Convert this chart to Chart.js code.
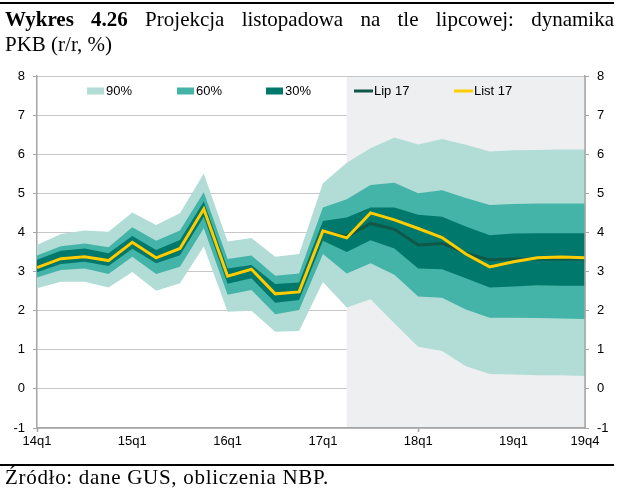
<!DOCTYPE html>
<html>
<head>
<meta charset="utf-8">
<script src="https://cdn.jsdelivr.net/npm/chart.js@4.4.1/dist/chart.umd.min.js"></script>
<style>
html,body{margin:0;padding:0;background:#fff;}
#wrap{position:relative;width:640px;height:496px;overflow:hidden;background:#fff;}
#topRule{position:absolute;left:0;top:2px;width:614px;height:2px;background:#000;}
#title{position:absolute;left:5px;top:7px;width:609px;font-family:"Liberation Serif","Times New Roman",serif;font-size:21px;line-height:25px;color:#000;}
#title .l1{text-align:justify;text-align-last:justify;}
#botRule{position:absolute;left:0;top:464px;width:614px;height:2px;background:#000;}
#footer{position:absolute;left:5px;top:465px;font-family:"Liberation Serif","Times New Roman",serif;font-size:21px;line-height:24px;letter-spacing:0.7px;color:#000;white-space:nowrap;}
#chartBox{position:absolute;left:0;top:0;width:640px;height:496px;}
</style>
</head>
<body>
<div id="wrap">
  <div id="chartBox"><canvas id="c" width="640" height="496"></canvas></div>
  <div id="topRule"></div>
  <div id="title"><div class="l1"><b>Wykres 4.26</b> Projekcja listopadowa na tle lipcowej: dynamika</div><div>PKB (r/r, %)</div></div>
  <div id="botRule"></div>
  <div id="footer">Źródło: dane GUS, obliczenia NBP.</div>
</div>
<script>
// ---- data ----
const quarters = ['14q1','14q2','14q3','14q4','15q1','15q2','15q3','15q4','16q1','16q2','16q3','16q4',
                  '17q1','17q2','17q3','17q4','18q1','18q2','18q3','18q4','19q1','19q2','19q3','19q4'];
const labeledQuarters = ['14q1','15q1','16q1','17q1','18q1','19q1','19q4'];
const projectionStart = '17q2';

const list17 = [3.10,3.33,3.38,3.28,3.75,3.35,3.59,4.60,2.88,3.06,2.43,2.48,
                4.04,3.86,4.50,4.32,4.10,3.87,3.45,3.12,3.25,3.35,3.37,3.35];
const lip17  = [3.10,3.33,3.38,3.28,3.75,3.35,3.59,4.60,2.88,3.06,2.43,2.48,
                4.04,3.90,4.23,4.08,3.68,3.72,3.47,3.30,3.32,3.32,3.32,3.32];

const band90Upper = [3.68,3.96,4.05,4.02,4.51,4.19,4.49,5.51,3.77,3.86,3.38,3.45,
                     5.26,5.78,6.15,6.43,6.25,6.39,6.24,6.07,6.10,6.11,6.12,6.12];
const band60Upper = [3.41,3.65,3.72,3.62,4.13,3.79,4.05,5.03,3.32,3.41,2.89,2.95,
                     4.64,4.85,5.21,5.27,5.00,5.08,4.88,4.70,4.73,4.74,4.74,4.74];
const band30Upper = [3.30,3.53,3.59,3.47,3.91,3.55,3.81,4.79,3.08,3.17,2.68,2.72,
                     4.29,4.38,4.64,4.64,4.45,4.40,4.15,3.93,3.97,3.98,3.98,3.98];
const band30Lower = [2.98,3.19,3.25,3.14,3.58,3.21,3.42,4.40,2.69,2.83,2.20,2.27,
                     3.79,3.50,3.80,3.59,3.08,3.06,2.83,2.59,2.62,2.65,2.64,2.64];
const band60Lower = [2.85,3.04,3.08,2.94,3.38,2.94,3.12,4.11,2.41,2.53,1.91,2.02,
                     3.45,2.95,3.21,2.92,2.36,2.33,2.03,1.82,1.82,1.81,1.80,1.79];
const band90Lower = [2.57,2.74,2.74,2.59,2.99,2.51,2.70,3.64,1.97,2.00,1.46,1.48,
                     2.73,2.08,2.29,1.68,1.08,0.97,0.58,0.38,0.37,0.35,0.35,0.33];

const yMin = -1, yMax = 8, yStep = 1;

// ---- styles ----
const C90 = '#b2ddd7', C60 = '#44b3a8', C30 = '#00796c';
const CLIP = '#0f5747', CLIST = '#ffcc00';
const SHADE = '#eeeff1';
const AXIS = '#a6a6a6', GRID = '#8f8f8f';
const FONT = {family:'"Liberation Sans", Arial, sans-serif', size:13};

Chart.defaults.font.family = FONT.family;
Chart.defaults.font.size = FONT.size;
Chart.defaults.color = '#000';

function band(label, data, color, order, fill){
  return {label, data, borderWidth:0, borderColor:'rgba(0,0,0,0)', backgroundColor:color,
          pointRadius:0, pointHoverRadius:0, fill, order, tension:0};
}

const datasets = [
  {label:'List 17', data:list17, borderColor:CLIST, backgroundColor:CLIST, borderWidth:3,
   pointRadius:0, fill:false, order:0, tension:0, borderJoinStyle:'miter'},
  {label:'Lip 17', data:lip17, borderColor:CLIP, backgroundColor:CLIP, borderWidth:3,
   pointRadius:0, fill:false, order:1, tension:0},
  band('30%', band30Upper, C30, 2, '+1'),
  band('30% lower', band30Lower, C30, 3, false),
  band('60%', band60Upper, C60, 4, '+1'),
  band('60% lower', band60Lower, C60, 5, false),
  band('90%', band90Upper, C90, 6, '+1'),
  band('90% lower', band90Lower, C90, 7, false)
];

const projectionShade = {
  id:'projectionShade',
  beforeDatasetsDraw(chart){
    const {ctx, chartArea:a, scales:{x}} = chart;
    const x0 = x.getPixelForValue(quarters.indexOf(projectionStart));
    ctx.save();
    ctx.fillStyle = SHADE;
    ctx.fillRect(x0, a.top + 1, a.right - x0, a.bottom - a.top - 2);
    ctx.restore();
  },
  afterDatasetsDraw(chart){
    const {ctx, chartArea:a} = chart;
    ctx.save();
    ctx.strokeStyle = AXIS; ctx.lineWidth = 1.5;
    ctx.beginPath(); ctx.moveTo(a.right, a.top); ctx.lineTo(a.right, a.bottom); ctx.stroke();
    ctx.restore();
  }
};

// legend drawn inside the plot area
const legendLayout = [
  {label:'90%', type:'box', x:87},
  {label:'60%', type:'box', x:177},
  {label:'30%', type:'box', x:266},
  {label:'Lip 17', type:'line', x:354},
  {label:'List 17', type:'line', x:454}
];
const innerLegend = {
  id:'innerLegend',
  afterDraw(chart){
    const {ctx} = chart;
    const y = 91;
    ctx.save();
    ctx.font = FONT.size + 'px ' + FONT.family;
    ctx.textBaseline = 'middle';
    ctx.fillStyle = '#000';
    legendLayout.forEach(item => {
      const ds = chart.data.datasets.find(d => d.label === item.label);
      if (item.type === 'box') {
        ctx.fillStyle = ds.backgroundColor;
        ctx.fillRect(item.x, y - 3.5, 17, 7);
        ctx.fillStyle = '#000';
        ctx.fillText(item.label, item.x + 19, y + 0.5);
      } else {
        ctx.strokeStyle = ds.borderColor; ctx.lineWidth = 3;
        ctx.beginPath(); ctx.moveTo(item.x, y); ctx.lineTo(item.x + 19, y); ctx.stroke();
        ctx.fillStyle = '#000';
        ctx.fillText(item.label, item.x + 20, y + 0.5);
      }
    });
    ctx.restore();
  }
};

const isLabeled = i => labeledQuarters.includes(quarters[i]);

new Chart(document.getElementById('c'), {
  type:'line',
  data:{labels:quarters, datasets},
  plugins:[projectionShade, innerLegend],
  options:{
    responsive:false,
    animation:false,
    events:[],
    layout:{padding:{top:76, bottom:38, left:0, right:0}},
    plugins:{legend:{display:false}, tooltip:{enabled:false}},
    scales:{
      x:{
        type:'category', offset:false,
        grid:{drawOnChartArea:false, drawTicks:true, tickLength:4, tickWidth:1.5,
              tickColor:c => isLabeled(c.index) ? AXIS : 'rgba(0,0,0,0)'},
        border:{color:AXIS, width:1.5},
        ticks:{autoSkip:false, maxRotation:0, minRotation:0, padding:2, color:'#000', font:FONT,
               callback:(v,i) => isLabeled(i) ? quarters[i] : null},
        afterFit(s){ s.height = 30; }
      },
      y:{
        position:'left', min:yMin, max:yMax,
        ticks:{stepSize:yStep, padding:8, color:'#000', font:FONT},
        grid:{color:GRID, lineWidth:1, tickLength:4, tickColor:AXIS, tickWidth:1},
        border:{color:AXIS, width:1.5, dash:[1,1]},
        afterFit(s){ s.width = 37; }
      },
      y2:{
        position:'right', min:yMin, max:yMax,
        ticks:{stepSize:yStep, padding:8, color:'#000', font:FONT},
        grid:{drawOnChartArea:false, tickLength:4, tickColor:AXIS, tickWidth:1},
        border:{color:AXIS, width:1.5},
        afterFit(s){ s.width = 55; }
      }
    }
  }
});
</script>
</body>
</html>
